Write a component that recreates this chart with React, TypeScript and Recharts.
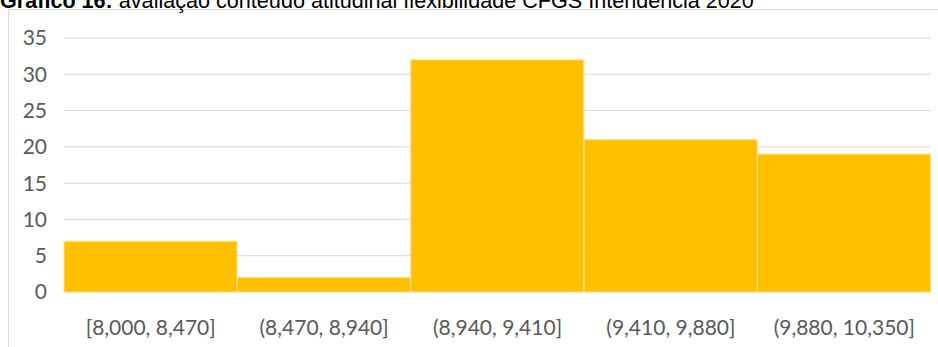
import { Bar, BarChart, CartesianGrid, XAxis, YAxis } from 'recharts';

const bins = ['[8,000, 8,470]', '(8,470, 8,940]', '(8,940, 9,410]', '(9,410, 9,880]', '(9,880, 10,350]'];
const counts = [7, 2, 32, 21, 19];
const yTicks = [0, 5, 10, 15, 20, 25, 30, 35];

const data = bins.map((bin, i) => ({ bin, count: counts[i] }));

export default function App() {
  return (
    <div style={{ position: 'absolute', left: 0, top: 0, width: 938, height: 347, overflow: 'hidden', background: '#fff' }}>
      {/* chart frame, only top/left edges show in the crop */}
      <div
        style={{
          position: 'absolute',
          left: 8,
          top: 9,
          width: 940,
          height: 350,
          borderTop: '1px solid #D9D9D9',
          borderLeft: '1px solid #D9D9D9',
        }}
      />
      <svg width={938} height={20} style={{ position: 'absolute', left: 0, top: 0 }}>
        <text x={0} y={7.5} fontFamily="'Liberation Sans', Arial, sans-serif" fontSize={21.6} fill="#000">
          <tspan fontWeight="bold">Gráfico 16:</tspan>
          <tspan> avaliação conteúdo atitudinal flexibilidade CFGS Intendência 2020</tspan>
        </text>
      </svg>
      <div style={{ position: 'absolute', left: 0, top: 0 }}>
        <BarChart
          width={938}
          height={347}
          data={data}
          barCategoryGap={0}
          margin={{ top: 38, right: 7, bottom: 0, left: 0 }}
        >
          <CartesianGrid vertical={false} stroke="#D9D9D9" />
          <XAxis
            dataKey="bin"
            axisLine={false}
            tickLine={false}
            interval={0}
            height={55}
            tick={{ fill: '#595959', fontSize: 21, fontFamily: 'Lato' }}
            dy={20}
          />
          <YAxis
            width={64}
            domain={[0, 35]}
            ticks={yTicks}
            interval={0}
            axisLine={false}
            tickLine={false}
            tick={{ fill: '#595959', fontSize: 21, fontFamily: 'Lato' }}
            dx={-9}
          />
          <Bar dataKey="count" fill="#FFC000" stroke="#FFE085" strokeWidth={1} isAnimationActive={false} />
        </BarChart>
      </div>
    </div>
  );
}
